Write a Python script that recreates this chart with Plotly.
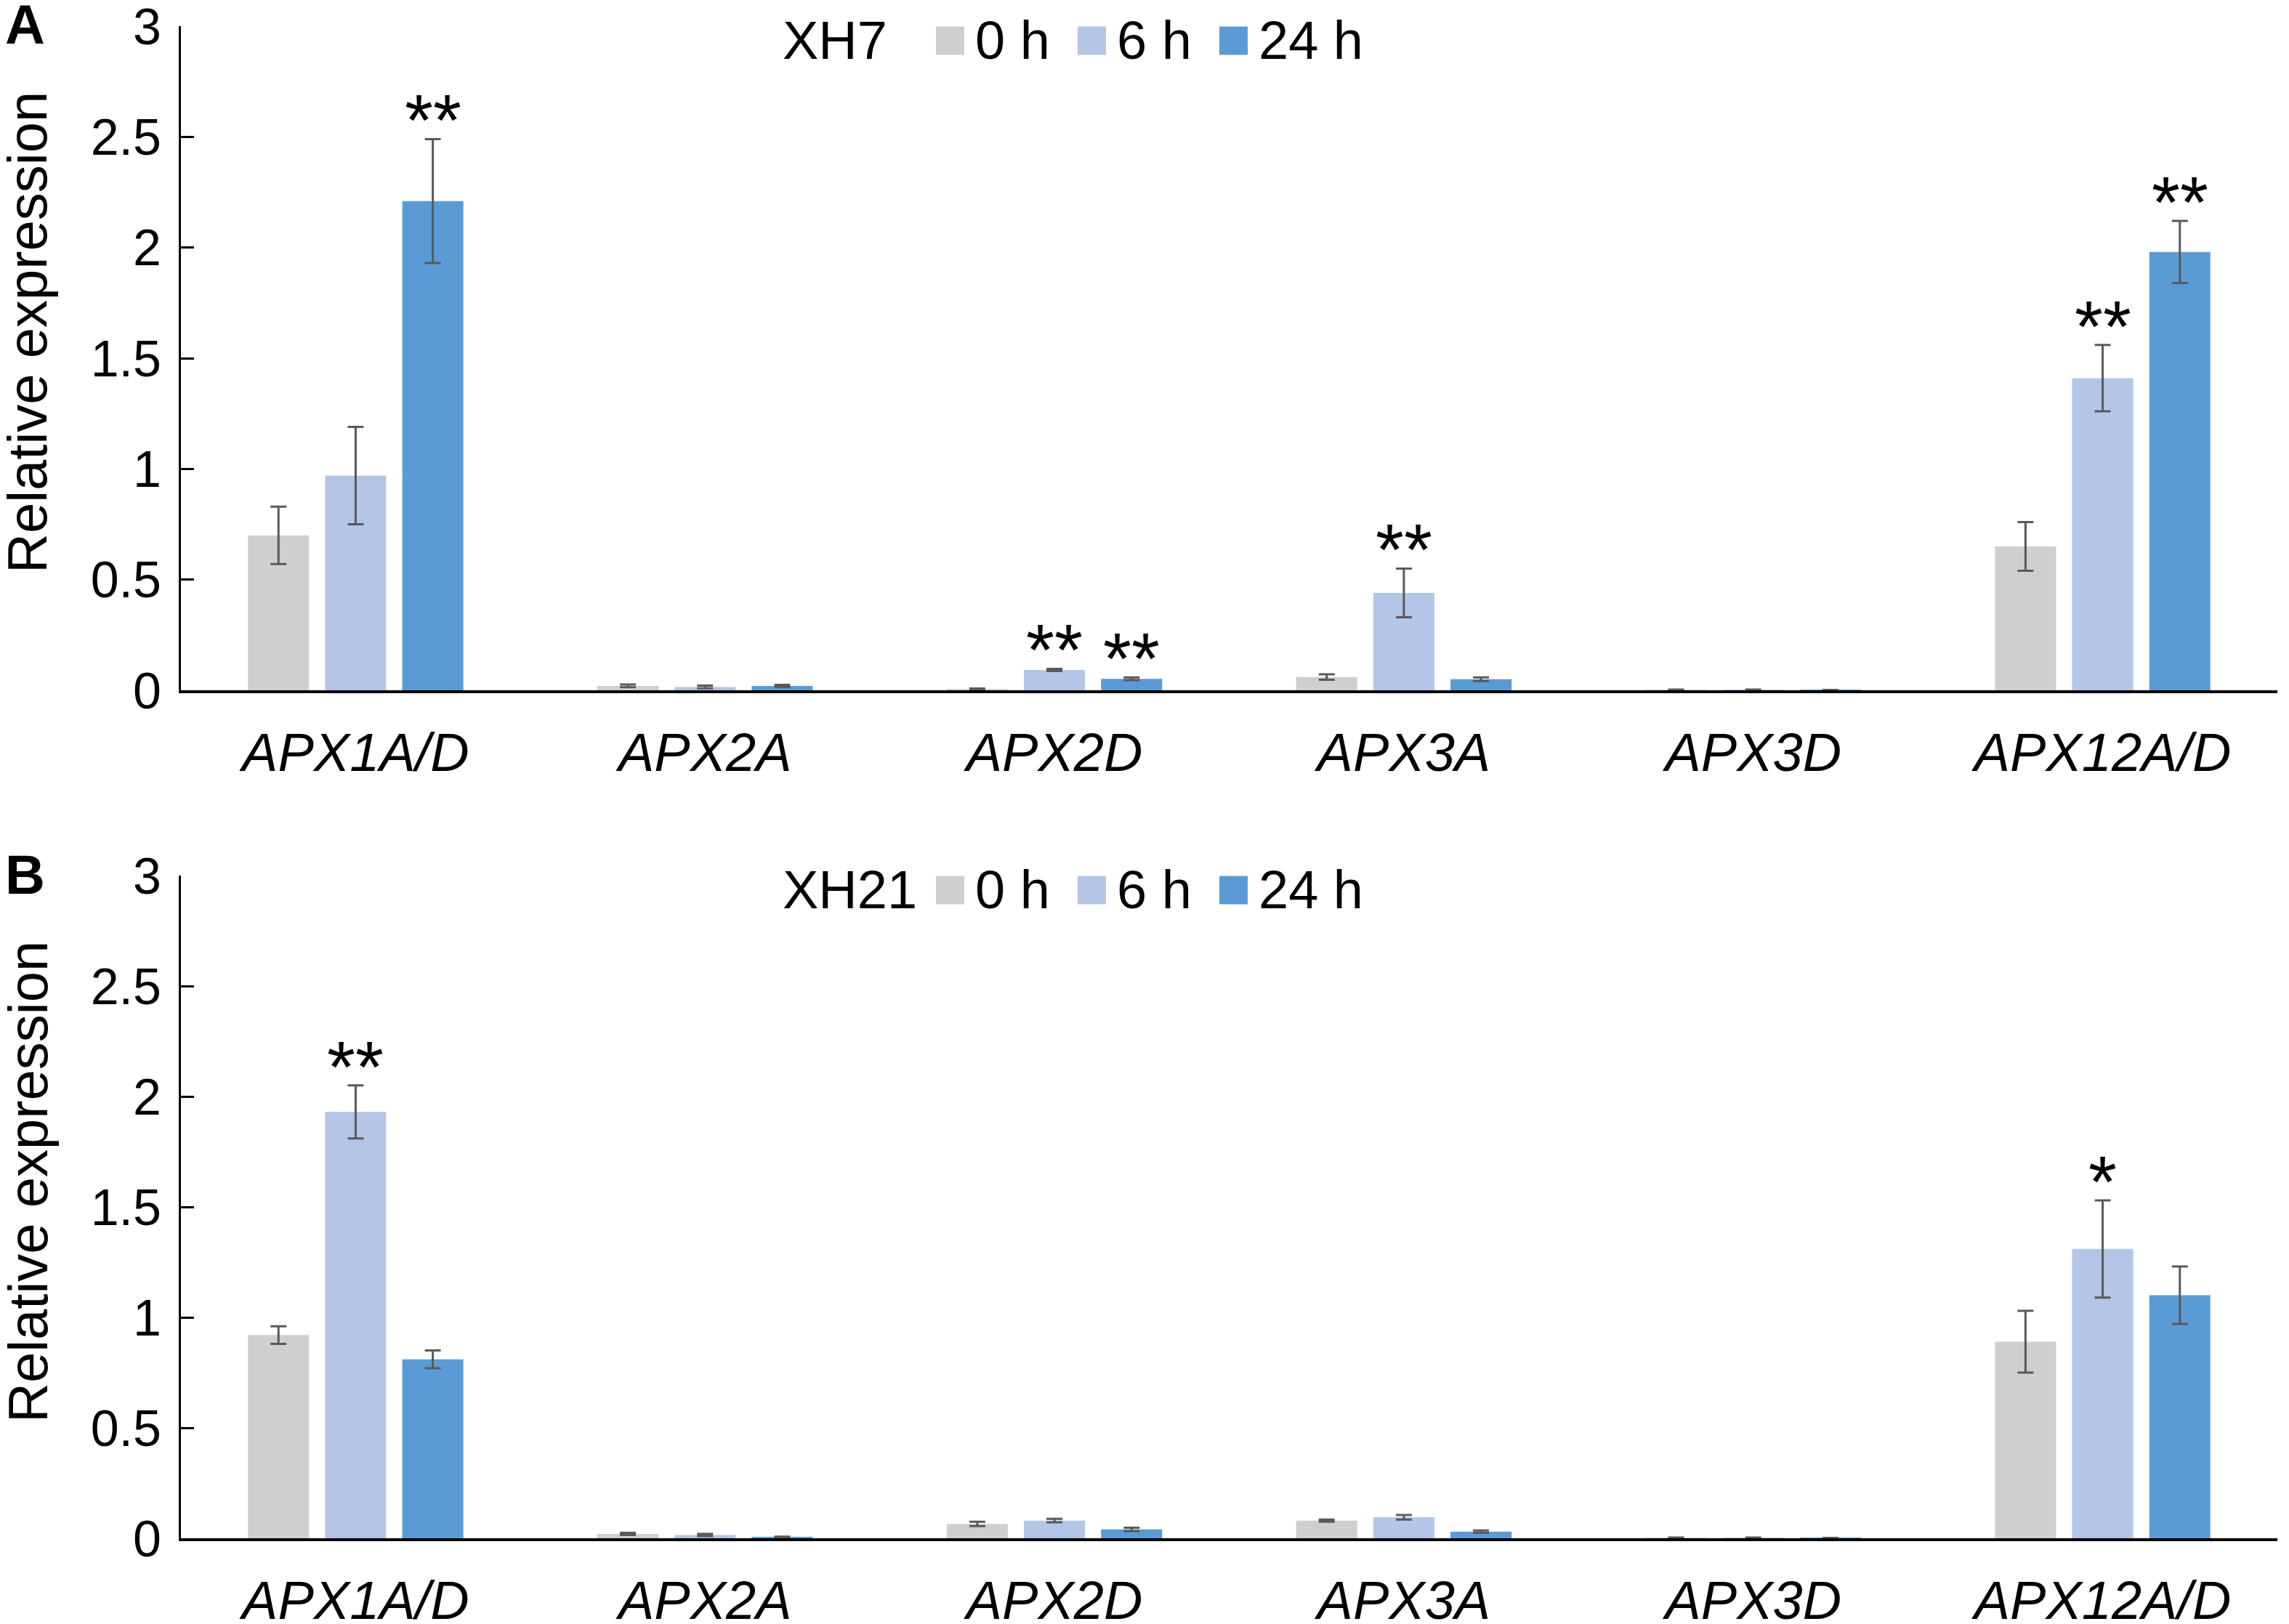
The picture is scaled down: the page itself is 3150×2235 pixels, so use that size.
import plotly.graph_objects as go
from plotly.subplots import make_subplots

# ---------- data ----------
genes = ["APX1A/D", "APX2A", "APX2D", "APX3A", "APX3D", "APX12A/D"]
times = ["0 h", "6 h", "24 h"]
colors = ["#D0CECE", "#B4C6E7", "#5B9BD5"]

# panel A: XH7
xh7_0h = [0.70, 0.02, 0.005, 0.06, 0.002, 0.65]
xh7_0h_err = [0.13, 0.006, 0.003, 0.012, 0.001, 0.11]
xh7_6h = [0.97, 0.015, 0.092, 0.44, 0.002, 1.41]
xh7_6h_err = [0.22, 0.006, 0.005, 0.11, 0.001, 0.15]
xh7_24h = [2.21, 0.02, 0.052, 0.05, 0.001, 1.98]
xh7_24h_err = [0.28, 0.005, 0.006, 0.008, 0.001, 0.14]

# panel B: XH21
xh21_0h = [0.92, 0.02, 0.065, 0.08, 0.002, 0.89]
xh21_0h_err = [0.04, 0.005, 0.01, 0.005, 0.001, 0.14]
xh21_6h = [1.93, 0.015, 0.08, 0.095, 0.002, 1.31]
xh21_6h_err = [0.12, 0.005, 0.008, 0.01, 0.001, 0.22]
xh21_24h = [0.81, 0.005, 0.04, 0.03, 0.001, 1.10]
xh21_24h_err = [0.04, 0.002, 0.008, 0.005, 0.001, 0.13]

# significance marks: (gene, time index, label)
xh7_marks = [("APX1A/D", 2, "**"), ("APX2D", 1, "**"), ("APX2D", 2, "**"),
             ("APX3A", 1, "**"), ("APX12A/D", 1, "**"), ("APX12A/D", 2, "**")]
xh21_marks = [("APX1A/D", 1, "**"), ("APX12A/D", 1, "*")]

yticks = [0, 0.5, 1, 1.5, 2, 2.5, 3]
ytick_text = ["0", "0.5", "1", "1.5", "2", "2.5", "3"]

panels = [
    ("A", "XH7", [xh7_0h, xh7_6h, xh7_24h], [xh7_0h_err, xh7_6h_err, xh7_24h_err], xh7_marks),
    ("B", "XH21", [xh21_0h, xh21_6h, xh21_24h], [xh21_0h_err, xh21_6h_err, xh21_24h_err], xh21_marks),
]

# ---------- layout geometry (pixels of the 3150x2235 canvas) ----------
W, H = 3150, 2235
FONT = "Liberation Sans, Arial, sans-serif"
x_left, x_right = 249, 3134
panel_px = [(36, 950), (1205, 2117)]   # (top, bottom) of each plot area
bargap, bargroupgap = 0.3375, 0.208
slot_px = (x_right - x_left) / len(genes) * (1 - bargap) / len(times)

fig = make_subplots(rows=2, cols=1)

for p, (letter, line, series, errs, marks) in enumerate(panels):
    row = p + 1
    for k, name in enumerate(times):
        fig.add_trace(go.Bar(
            x=genes, y=series[k], name=name,
            marker=dict(color=colors[k], line=dict(width=0)),
            error_y=dict(type="data", array=errs[k], color="#595959",
                         thickness=3, width=11),
            showlegend=False,
        ), row=row, col=1)

    top, bottom = panel_px[p]
    yd = [1 - bottom / H, 1 - top / H]
    ax = "" if p == 0 else "2"
    fig.layout["yaxis" + ax].update(domain=yd)
    fig.layout["xaxis" + ax].update(domain=[x_left / W, x_right / W])

    # significance asterisks above error bars
    for gene, k, txt in marks:
        i = genes.index(gene)
        fig.add_annotation(
            x=gene, y=series[k][i] + errs[k][i], xref="x" + ax, yref="y" + ax,
            text=txt, showarrow=False, yanchor="bottom", yshift=-32,
            xshift=(k - 1) * slot_px,
            font=dict(family=FONT, size=100, color="#000000"))

    # panel letter
    fig.add_annotation(x=34 / W, y=1 - (top - 2) / H, xref="paper", yref="paper",
                       text="<b>" + letter + "</b>", showarrow=False,
                       xanchor="center", yanchor="middle",
                       font=dict(family=FONT, size=76, color="#000000"))
    # y axis title
    fig.add_annotation(x=38 / W, y=1 - (top + 422) / H, xref="paper", yref="paper",
                       text="Relative expression", showarrow=False, textangle=-90,
                       xanchor="center", yanchor="middle",
                       font=dict(family=FONT, size=76, color="#000000"))

    # legend drawn by hand so the swatches match the text size
    ly = 1 - (top + 20) / H
    fig.add_annotation(x=1075 / W, y=ly, xref="paper", yref="paper", text=line,
                       showarrow=False, xanchor="left", yanchor="middle",
                       font=dict(family=FONT, size=74, color="#000000"))
    for k, name in enumerate(times):
        sx = 1288 + k * 195
        fig.add_shape(type="rect", xref="paper", yref="paper",
                      x0=sx / W, x1=(sx + 39) / W,
                      y0=ly - 19.5 / H, y1=ly + 19.5 / H,
                      fillcolor=colors[k], line=dict(width=0))
        fig.add_annotation(x=(sx + 52) / W, y=ly, xref="paper", yref="paper",
                           text=name, showarrow=False, xanchor="left",
                           yanchor="middle",
                           font=dict(family=FONT, size=74, color="#000000"))

fig.update_yaxes(range=[0, 3], tickvals=yticks, ticktext=ytick_text,
                 showline=True, linecolor="#000000", linewidth=3,
                 ticks="inside", ticklen=18, tickwidth=3, tickcolor="#000000",
                 showgrid=False, zeroline=False, ticklabelstandoff=10,
                 automargin=False, ticklabeloverflow="allow",
                 tickfont=dict(family=FONT, size=70, color="#000000"))
fig.update_xaxes(tickvals=genes, ticktext=["<i>" + g + "</i>" for g in genes],
                 showline=True, linecolor="#000000", linewidth=4,
                 ticks="", showgrid=False, zeroline=False, ticklabelstandoff=18,
                 automargin=False, ticklabeloverflow="allow",
                 tickfont=dict(family=FONT, size=74, color="#000000"))

fig.update_layout(
    width=W, height=H,
    margin=dict(l=0, r=0, t=0, b=0, autoexpand=False),
    barmode="group", bargap=bargap, bargroupgap=bargroupgap,
    plot_bgcolor="#FFFFFF", paper_bgcolor="#FFFFFF",
    showlegend=False,
    font=dict(family=FONT, color="#000000"),
)

# drop the browser's default body margin so the figure fills the window exactly
fig.write_html("out.html", config={"displayModeBar": False},
               post_script="document.body.style.margin = '0';")
